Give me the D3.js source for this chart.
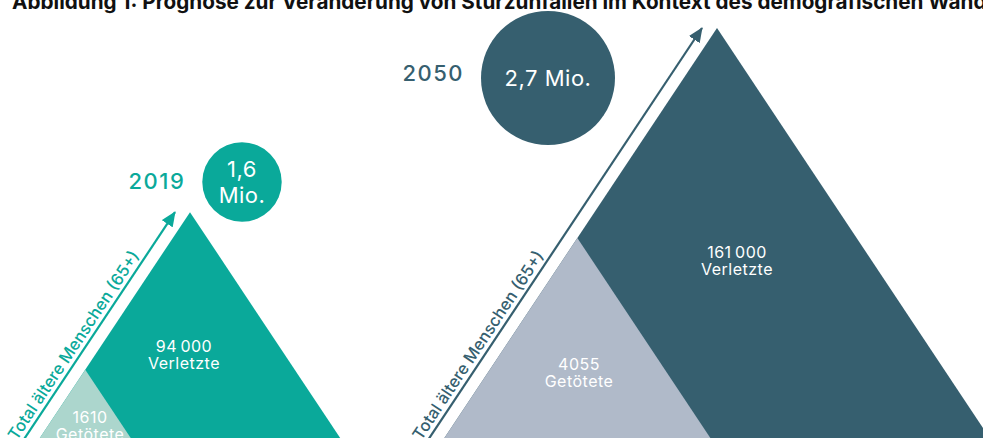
<!DOCTYPE html>
<html>
<head>
<meta charset="utf-8">
<script src="https://cdn.jsdelivr.net/npm/d3@7"></script>
<style>
  body { margin: 0; background: #fff; }
  text { font-family: Inter, "Open Sans", sans-serif; }
</style>
</head>
<body>
<div id="chart"></div>
<script>
// data
const years = ["2019", "2050"];
const population = [1.6, 2.7];      // ältere Menschen 65+, in Mio.
const injured = [94000, 161000];    // Verletzte
const killed = [1610, 4055];        // Getötete

const title = "Abbildung 1: Prognose zur Veränderung von Sturzunfällen im Kontext des demografischen Wandels";
const arrowLabel = "Total ältere Menschen (65+)";
const injuredLabel = "Verletzte";
const killedLabel = "Getötete";

const mainColor = ["#0aa99a", "#365f6f"];
const lightColor = ["#acd6cd", "#b0bac9"];

const width = 983, height = 438;
const baseY = 480;      // common base line, below the visible crop
const slope = 0.665;    // half width per unit of height

const svg = d3.select("#chart").append("svg")
    .attr("width", width)
    .attr("height", height);

const de = d3.formatLocale({decimal: ",", thousands: "\u2009", grouping: [3], currency: ["", ""]});
const fmtNum = v => v >= 10000 ? de.format(",")(v) : String(v);
const fmtMio = de.format(".1f");

const apexX = d3.scaleOrdinal(years, [190, 717]);
const heightScale = d3.scaleLinear([0, d3.max(population)], [0, 452]);
const radius = d3.scaleLinear([0, d3.max(population)], [0, 67]);
const killedHeight = d3.scalePow().exponent(0.85).domain([0, d3.max(killed)]).range([0, 242]);

// circle centres and label anchors
const layout = {
    "2019": {circle: [242, 182], yearY: 181, injuredPos: [184, 346], killedPos: [90, 417]},
    "2050": {circle: [548, 78], yearY: 73, injuredPos: [737, 252], killedPos: [579, 364]}
};

const line = d3.line();

svg.append("text")
    .attr("x", 12)
    .attr("y", 9)
    .attr("font-family", "'Liberation Sans', Arial, sans-serif")
    .attr("font-weight", "bold")
    .attr("font-size", 20.7)
    .attr("fill", "#111")
    .text(title);

const defs = svg.append("defs");
years.forEach((y, i) => {
    defs.append("marker")
        .attr("id", "arrow" + i)
        .attr("viewBox", "0 0 15 13")
        .attr("refX", 14)
        .attr("refY", 6.5)
        .attr("markerWidth", 15)
        .attr("markerHeight", 13)
        .attr("markerUnits", "userSpaceOnUse")
        .attr("orient", "auto")
      .append("path")
        .attr("d", "M0,0L15,6.5L0,13Z")
        .attr("fill", mainColor[i]);
});

years.forEach((y, i) => {
    const ax = apexX(y);
    const h = heightScale(population[i]);
    const ay = baseY - h;
    const left = ax - slope * h;

    svg.append("path")
        .attr("d", line([[ax, ay], [left, baseY], [ax + slope * h, baseY]]) + "Z")
        .attr("fill", mainColor[i]);

    const kh = killedHeight(killed[i]);
    svg.append("path")
        .attr("d", line([[left + slope * kh, baseY - kh], [left, baseY], [left + 2 * slope * kh, baseY]]) + "Z")
        .attr("fill", lightColor[i]);

    // arrow along the left flank
    const gap = 15;
    const tip = [ax - gap, ay];
    const tailY = baseY + 40;
    const tail = [tip[0] - slope * (tailY - ay), tailY];
    svg.append("path")
        .attr("d", line([tail, tip]))
        .attr("stroke", mainColor[i])
        .attr("stroke-width", 2.2)
        .attr("fill", "none")
        .attr("marker-end", `url(#arrow${i})`);

    const angle = -Math.atan2(1, slope) * 180 / Math.PI;
    const len = Math.hypot(1, slope);
    const nx = -1 / len, ny = -slope / len;
    const sy = 444;
    const sx = tip[0] - slope * (sy - ay);
    svg.append("text")
        .attr("transform", `translate(${sx + nx * 5},${sy + ny * 5}) rotate(${angle})`)
        .attr("font-size", 16.5)
        .attr("font-weight", 500)
        .attr("fill", mainColor[i])
        .text(arrowLabel);

    // population circle
    const L = layout[y];
    const r = radius(population[i]);
    svg.append("circle")
        .attr("cx", L.circle[0])
        .attr("cy", L.circle[1])
        .attr("r", r)
        .attr("fill", mainColor[i]);

    const mio = fmtMio(population[i]);
    const circleText = svg.append("text")
        .attr("x", L.circle[0])
        .attr("y", L.circle[1])
        .attr("text-anchor", "middle")
        .attr("font-size", 22)
        .attr("font-weight", 400)
        .attr("letter-spacing", 0.5)
        .attr("fill", "#fff");
    if (r < 50) {
        circleText.append("tspan").attr("x", L.circle[0]).attr("dy", "-0.25em").text(mio);
        circleText.append("tspan").attr("x", L.circle[0]).attr("dy", "1.2em").text("Mio.");
    } else {
        circleText.attr("dy", "0.35em").text(mio + " Mio.");
    }

    svg.append("text")
        .attr("x", L.circle[0] - r - 17)
        .attr("y", L.yearY)
        .attr("dy", "0.35em")
        .attr("text-anchor", "end")
        .attr("font-size", 22)
        .attr("font-weight", 500)
        .attr("letter-spacing", 1.5)
        .attr("fill", mainColor[i])
        .text(y);

    // value labels
    [[L.injuredPos, injured[i], injuredLabel], [L.killedPos, killed[i], killedLabel]].forEach(([p, v, lab]) => {
        const t = svg.append("text")
            .attr("text-anchor", "middle")
            .attr("font-size", 16)
            .attr("letter-spacing", 0.5)
            .attr("fill", "#fff");
        t.append("tspan").attr("x", p[0]).attr("y", p[1]).attr("dy", "0.35em").text(fmtNum(v));
        t.append("tspan").attr("x", p[0]).attr("y", p[1] + 17).attr("dy", "0.35em").text(lab);
    });
});
</script>
</body>
</html>
